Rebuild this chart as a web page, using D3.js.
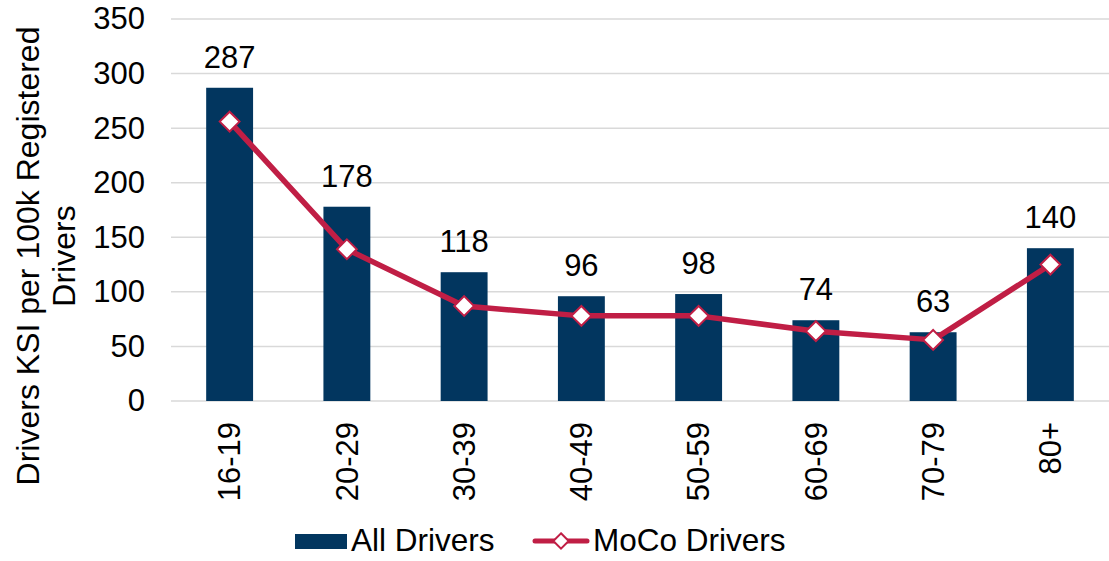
<!DOCTYPE html>
<html>
<head>
<meta charset="utf-8">
<script src="https://cdn.jsdelivr.net/npm/d3@7"></script>
<style>
  body { margin: 0; background: #fff; }
  svg { display: block; font-family: "Liberation Sans", Arial, sans-serif; }
</style>
</head>
<body>
<svg id="chart"></svg>
<script>
const categories = ["16-19", "20-29", "30-39", "40-49", "50-59", "60-69", "70-79", "80+"];
const allDrivers = [287, 178, 118, 96, 98, 74, 63, 140];
const mocoDrivers = [256, 139, 87, 78, 78, 64, 56, 125];
const yTicks = [0, 50, 100, 150, 200, 250, 300, 350];

const W = 1109, H = 561;
const margin = { top: 19, right: 0, bottom: 160, left: 171 };
const width = W - margin.left - margin.right;
const height = H - margin.top - margin.bottom;

const barColor = "#02365F";
const lineColor = "#C01E45";

const svg = d3.select("#chart").attr("width", W).attr("height", H);
const g = svg.append("g").attr("transform", `translate(${margin.left},${margin.top})`);

const x = d3.scaleBand().domain(categories).range([0, width]).paddingInner(0.6).paddingOuter(0.3);
const y = d3.scaleLinear().domain([0, 350]).range([height, 0]);

// Gridlines
g.selectAll(".grid")
  .data(yTicks)
  .enter()
  .append("line")
  .attr("x1", 0)
  .attr("x2", width)
  .attr("y1", d => y(d))
  .attr("y2", d => y(d))
  .attr("stroke", "#d9d9d9")
  .attr("stroke-width", 1.5);

// Y axis labels
const yAxis = g.append("g")
  .call(d3.axisLeft(y).tickValues(yTicks).tickSize(0).tickPadding(26));
yAxis.select(".domain").remove();
yAxis.selectAll("text")
  .style("font-size", "31px")
  .style("font-family", "'Liberation Sans', Arial, sans-serif")
  .attr("fill", "#000");

// X axis labels
const xAxis = g.append("g")
  .attr("transform", `translate(0,${height})`)
  .call(d3.axisBottom(x).tickSize(0));
xAxis.select(".domain").remove();
xAxis.selectAll("text")
  .style("font-size", "31px")
  .style("font-family", "'Liberation Sans', Arial, sans-serif")
  .attr("fill", "#000")
  .attr("text-anchor", "end")
  .attr("transform", "rotate(-90)")
  .attr("x", -21)
  .attr("y", 0)
  .attr("dy", "0.35em");

// Bars
g.selectAll(".bar")
  .data(categories)
  .enter()
  .append("rect")
  .attr("x", d => x(d))
  .attr("width", x.bandwidth())
  .attr("y", (d, i) => y(allDrivers[i]))
  .attr("height", (d, i) => height - y(allDrivers[i]))
  .attr("fill", barColor);

// Bar value labels
g.selectAll(".bar-label")
  .data(categories)
  .enter()
  .append("text")
  .attr("x", d => x(d) + x.bandwidth() / 2)
  .attr("y", (d, i) => y(allDrivers[i]) - 20)
  .attr("text-anchor", "middle")
  .style("font-size", "31px")
  .attr("fill", "#000")
  .text((d, i) => allDrivers[i]);

// Line
const line = d3.line()
  .x((d, i) => x(categories[i]) + x.bandwidth() / 2)
  .y(d => y(d));

g.append("path")
  .datum(mocoDrivers)
  .attr("d", line)
  .attr("fill", "none")
  .attr("stroke", lineColor)
  .attr("stroke-width", 5.5)
  .attr("stroke-linejoin", "round");

const diamond = d3.symbol().type(d3.symbolDiamond2).size(250);

g.selectAll(".marker")
  .data(mocoDrivers)
  .enter()
  .append("path")
  .attr("d", diamond)
  .attr("transform", (d, i) => `translate(${x(categories[i]) + x.bandwidth() / 2},${y(d)})`)
  .attr("fill", "#fff")
  .attr("stroke", lineColor)
  .attr("stroke-width", 2);

// Y axis title
const title = svg.append("text")
  .attr("transform", "translate(39,256) rotate(-90)")
  .attr("text-anchor", "middle")
  .style("font-size", "32px")
  .attr("fill", "#000");
title.append("tspan").attr("x", 0).attr("y", 0).text("Drivers KSI per 100k Registered");
title.append("tspan").attr("x", 0).attr("y", 36).text("Drivers");

// Legend
const legend = svg.append("g").attr("transform", "translate(0,542)");
legend.append("rect")
  .attr("x", 295).attr("y", -8)
  .attr("width", 52).attr("height", 15)
  .attr("fill", barColor);
legend.append("text")
  .attr("x", 351).attr("y", 9)
  .style("font-size", "31.5px")
  .attr("fill", "#000")
  .text("All Drivers");
legend.append("line")
  .attr("x1", 535).attr("x2", 587)
  .attr("y1", -1).attr("y2", -1)
  .attr("stroke", lineColor)
  .attr("stroke-width", 5)
  .attr("stroke-linecap", "round");
legend.append("path")
  .attr("d", d3.symbol().type(d3.symbolDiamond2).size(150))
  .attr("transform", "translate(561,-1)")
  .attr("fill", "#fff")
  .attr("stroke", lineColor)
  .attr("stroke-width", 2);
legend.append("text")
  .attr("x", 593).attr("y", 9)
  .style("font-size", "31.5px")
  .attr("fill", "#000")
  .text("MoCo Drivers");
</script>
</body>
</html>
